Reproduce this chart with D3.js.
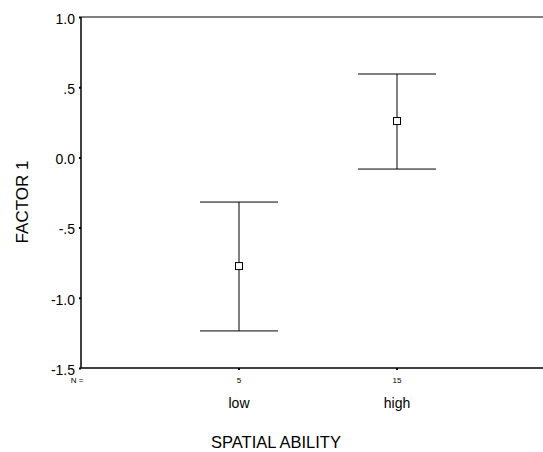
<!DOCTYPE html>
<html><head><meta charset="utf-8">
<script src="https://cdn.jsdelivr.net/npm/d3@7"></script>
<style>body{margin:0;background:#fff}svg{display:block}text{font-family:"Liberation Sans",Arial,sans-serif;fill:#000}</style>
</head><body><svg id="c" width="543" height="452"></svg>
<script>
const categories = ["low", "high"];
const counts = [5, 15];
const means = [-0.774, 0.259];
const upper = [-0.318, 0.594];
const lower = [-1.236, -0.083];
const yTicks = [1.0, 0.5, 0.0, -0.5, -1.0, -1.5];
const yTickLabels = ["1.0", ".5", "0.0", "-.5", "-1.0", "-1.5"];

const svg = d3.select("#c");
const x = d3.scaleLinear().domain([0, 3]).range([81, 555]);
const y = d3.scaleLinear().domain([-1.5, 1.0]).range([368, 17]);

// frame
svg.append("line").attr("x1", x(0)).attr("x2", 543).attr("y1", y(1)).attr("y2", y(1)).attr("stroke", "#000");
svg.append("line").attr("x1", x(0)).attr("x2", 543).attr("y1", y(-1.5)).attr("y2", y(-1.5)).attr("stroke", "#000").attr("stroke-width", 1.5);
svg.append("line").attr("x1", x(0)).attr("x2", x(0)).attr("y1", y(1)).attr("y2", y(-1.5)).attr("stroke", "#000").attr("stroke-width", 1.5);

// y axis
const yAxis = d3.axisLeft(y).tickValues(yTicks).tickFormat((d, i) => yTickLabels[i]).tickSize(2).tickPadding(4);
const ga = svg.append("g").attr("transform", `translate(${x(0)},0)`).call(yAxis);
ga.select(".domain").remove();
ga.selectAll("text").attr("font-size", 14).attr("font-family", "Liberation Sans, Arial, sans-serif").attr("dy", "0.45em");
ga.selectAll("line").attr("stroke-width", 2);

// x axis ticks
const xs = categories.map((c, i) => i + 1);
svg.selectAll(".xt").data(xs).enter().append("line")
  .attr("x1", d => x(d)).attr("x2", d => x(d)).attr("y1", y(-1.5)).attr("y2", y(-1.5) + 2)
  .attr("stroke", "#000").attr("stroke-width", 2);

// N labels
svg.append("text").attr("x", 77).attr("y", 383).attr("text-anchor", "middle").attr("font-size", 8).text("N =");
svg.selectAll(".nl").data(counts).enter().append("text")
  .attr("x", (d, i) => x(i + 1)).attr("y", 383).attr("text-anchor", "middle").attr("font-size", 8).text(d => d);
svg.selectAll(".cl").data(categories).enter().append("text")
  .attr("x", (d, i) => x(i + 1)).attr("y", 408).attr("text-anchor", "middle").attr("font-size", 14).text(d => d);

svg.append("text").attr("x", 276).attr("y", 448).attr("text-anchor", "middle").attr("font-size", 16.5).text("SPATIAL ABILITY");
svg.append("text").attr("transform", "translate(28,202) rotate(-90)").attr("text-anchor", "middle").attr("font-size", 17).text("FACTOR 1");

// error bars
const capW = 39;
const g = svg.append("g");
categories.forEach((c, i) => {
  const cx = x(i + 1);
  g.append("line").attr("x1", cx).attr("x2", cx).attr("y1", y(upper[i])).attr("y2", y(lower[i])).attr("stroke", "#000");
  g.append("line").attr("x1", cx - capW).attr("x2", cx + capW).attr("y1", y(upper[i])).attr("y2", y(upper[i])).attr("stroke", "#000");
  g.append("line").attr("x1", cx - capW).attr("x2", cx + capW).attr("y1", y(lower[i])).attr("y2", y(lower[i])).attr("stroke", "#000");
  g.append("rect").attr("x", cx - 3.5).attr("y", y(means[i]) - 3.5).attr("width", 7).attr("height", 7)
    .attr("fill", "#fff").attr("stroke", "#000");
});
</script></body></html>
